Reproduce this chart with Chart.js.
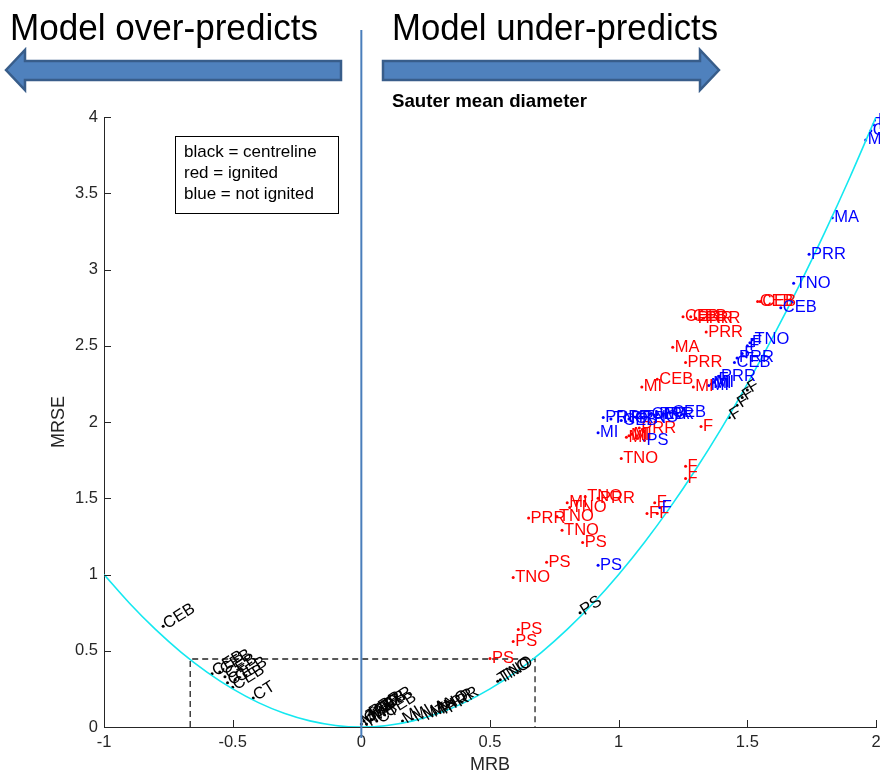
<!DOCTYPE html>
<html>
<head>
<meta charset="utf-8">
<script src="https://cdn.jsdelivr.net/npm/chart.js@4/dist/chart.umd.min.js"></script>
<style>
  html, body { margin: 0; padding: 0; background: #ffffff; }
  #wrap { position: relative; width: 880px; height: 779px; }
  canvas { position: absolute; left: 0; top: 0; }
</style>
</head>
<body>
<div id="wrap"><canvas id="c" width="880" height="779"></canvas></div>
<script>
// ---------------- data ----------------
const xTickValues = [-1, -0.5, 0, 0.5, 1, 1.5, 2];
const xTickLabels = ['-1', '-0.5', '0', '0.5', '1', '1.5', '2'];
const yTickValues = [0, 0.5, 1, 1.5, 2, 2.5, 3, 3.5, 4];
const yTickLabels = ['0', '0.5', '1', '1.5', '2', '2.5', '3', '3.5', '4'];

// cyan reference curve (MRSE vs MRB)
const curveX = [-1, -0.9, -0.8, -0.7, -0.6, -0.5, -0.4, -0.3, -0.2, -0.1, 0, 0.1, 0.2, 0.3, 0.4, 0.5, 0.6, 0.7, 0.8, 0.9, 1, 1.1, 1.2, 1.3, 1.4, 1.5, 1.6, 1.7, 1.8, 1.9, 2];
const curveY = [1, 0.81, 0.64, 0.49, 0.36, 0.25, 0.16, 0.09, 0.04, 0.01, 0, 0.01, 0.04, 0.09, 0.16, 0.25, 0.36, 0.49, 0.64, 0.81, 1, 1.21, 1.44, 1.69, 1.96, 2.25, 2.56, 2.89, 3.24, 3.61, 4];

// dashed guide box
const boxX = [-0.665, -0.665, 0.675, 0.675];
const boxY = [0, 0.446, 0.446, 0];

// black = centreline
const blackX = [-0.77, -0.58, -0.55, -0.53, -0.52, -0.50, -0.49, -0.42, 0.00, 0.01, 0.02, 0.02, 0.03, 0.04, 0.05, 0.06, 0.07, 0.09, 0.16, 0.20, 0.24, 0.27, 0.29, 0.31, 0.33, 0.53, 0.54, 0.85, 1.43, 1.46, 1.48, 1.50];
const blackY = [0.66, 0.35, 0.36, 0.33, 0.29, 0.26, 0.31, 0.19, 0.02, 0.04, 0.06, 0.02, 0.08, 0.05, 0.09, 0.04, 0.11, 0.08, 0.04, 0.05, 0.06, 0.08, 0.09, 0.10, 0.11, 0.30, 0.31, 0.75, 2.03, 2.11, 2.16, 2.21];
const blackLabels = ['CEB', 'CEB', 'CEB', 'CEB', 'CT', 'CEB', 'CEB', 'CT', 'MI', 'CEB', 'TNO', 'F', 'PRR', 'MA', 'CEB', 'CT', 'PRR', 'CEB', 'MI', 'MI', 'MA', 'MA', 'TNO', 'PRR', 'PRR', 'TNO', 'TNO', 'PS', 'F', 'F', 'F', 'F'];

// red = ignited
const redX = [1.54, 1.55, 1.25, 1.28, 1.30, 1.33, 1.34, 1.21, 1.26, 1.15, 1.09, 1.29, 1.32, 1.08, 1.03, 1.04, 1.05, 1.01, 1.26, 1.26, 0.87, 0.92, 0.80, 0.81, 0.65, 0.76, 0.78, 0.86, 0.72, 0.59, 1.14, 1.11, 1.15, 0.61, 0.59, 0.50];
const redY = [2.79, 2.79, 2.69, 2.69, 2.68, 2.68, 2.59, 2.49, 2.39, 2.28, 2.23, 2.23, 1.97, 1.96, 1.90, 1.91, 1.92, 1.76, 1.71, 1.63, 1.51, 1.50, 1.47, 1.44, 1.37, 1.38, 1.29, 1.21, 1.08, 0.98, 1.47, 1.40, 1.40, 0.64, 0.56, 0.45];
const redLabels = ['CEB', 'CEB', 'CEB', 'CEB', 'PRR', 'PRR', 'PRR', 'MA', 'PRR', 'CEB', 'MI', 'MI', 'F', 'PRR', 'MI', 'MI', 'MI', 'TNO', 'F', 'F', 'TNO', 'PRR', 'MI', 'TNO', 'PRR', 'TNO', 'TNO', 'PS', 'PS', 'TNO', 'F', 'F', 'F', 'PS', 'PS', 'PS'];

// blue = not ignited
const blueX = [1.96, 1.98, 1.99, 2.00, 1.83, 1.74, 1.68, 1.63, 1.52, 1.51, 1.50, 1.48, 1.46, 1.45, 1.39, 1.38, 1.36, 1.37, 1.35, 0.94, 0.92, 0.97, 1.01, 1.04, 1.07, 1.09, 1.12, 1.15, 1.17, 1.20, 1.10, 0.92, 1.16];
const blueY = [3.85, 3.91, 3.95, 3.98, 3.34, 3.10, 2.91, 2.75, 2.54, 2.52, 2.50, 2.45, 2.42, 2.39, 2.30, 2.28, 2.25, 2.26, 2.24, 2.03, 1.93, 2.02, 2.01, 2.02, 2.03, 2.03, 2.05, 2.05, 2.05, 2.06, 1.88, 1.06, 1.44];
const blueLabels = ['MI', 'CEB', 'TNO', 'PRR', 'MA', 'PRR', 'TNO', 'CEB', 'TNO', 'F', 'F', 'F', 'PRR', 'CEB', 'PRR', 'F', 'MI', 'MI', 'MI', 'PRR', 'MI', 'TNO', 'CEB', 'PRR', 'F', 'TNO', 'CEB', 'PRR', 'MA', 'CEB', 'PS', 'PS', 'F'];

// ---------------- helpers ----------------
const FONT = "'Liberation Sans', Arial, Helvetica, sans-serif";
const AXIS = '#262626';
const pts = (xs, ys) => xs.map((x, i) => ({ x: x, y: ys[i] }));

// inner tick marks (MATLAB style)
const innerTicks = {
  id: 'innerTicks',
  afterDraw(chart) {
    const { ctx, chartArea: a, scales: { x, y } } = chart;
    ctx.save();
    ctx.strokeStyle = AXIS;
    ctx.lineWidth = 1;
    ctx.beginPath();
    xTickValues.forEach(v => {
      const px = Math.round(x.getPixelForValue(v)) + 0.5;
      ctx.moveTo(px, a.bottom); ctx.lineTo(px, a.bottom - 7);
    });
    yTickValues.forEach(v => {
      const py = Math.round(y.getPixelForValue(v)) + 0.5;
      ctx.moveTo(a.left, py); ctx.lineTo(a.left + 7, py);
    });
    ctx.stroke();
    ctx.restore();
  }
};

// text labels beside each point
const pointLabels = {
  id: 'pointLabels',
  afterDatasetsDraw(chart) {
    const ctx = chart.ctx;
    chart.data.datasets.forEach((ds, di) => {
      if (!ds.pointText) return;
      const meta = chart.getDatasetMeta(di);
      ctx.save();
      ctx.font = '16.5px ' + FONT;
      ctx.fillStyle = ds.textColor;
      ctx.textBaseline = 'middle';
      ctx.textAlign = 'left';
      meta.data.forEach((el, i) => {
        const txt = ds.pointText[i];
        ctx.save();
        ctx.translate(el.x, el.y);
        if (ds.textAngle) ctx.rotate(ds.textAngle * Math.PI / 180);
        ctx.fillText(txt, 2, 0);
        ctx.restore();
      });
      ctx.restore();
    });
  }
};

// slide decorations: headings, arrows, divider, title, note box
const overlay = {
  id: 'overlay',
  afterDraw(chart) {
    const { ctx, scales: { x } } = chart;
    ctx.save();
    // divider at MRB = 0
    const x0 = x.getPixelForValue(0);
    ctx.strokeStyle = '#4a7ebb';
    ctx.lineWidth = 2;
    ctx.beginPath();
    ctx.moveTo(x0, 30); ctx.lineTo(x0, 738);
    ctx.stroke();

    // arrows
    ctx.fillStyle = '#4f81bd';
    ctx.strokeStyle = '#385d8a';
    ctx.lineWidth = 2.5;
    ctx.lineJoin = 'miter';
    ctx.beginPath();
    ctx.moveTo(6, 70); ctx.lineTo(25, 50); ctx.lineTo(25, 61); ctx.lineTo(341, 61);
    ctx.lineTo(341, 80); ctx.lineTo(25, 80); ctx.lineTo(25, 90); ctx.closePath();
    ctx.fill(); ctx.stroke();
    ctx.beginPath();
    ctx.moveTo(719, 70); ctx.lineTo(700, 50); ctx.lineTo(700, 61); ctx.lineTo(383, 61);
    ctx.lineTo(383, 80); ctx.lineTo(700, 80); ctx.lineTo(700, 90); ctx.closePath();
    ctx.fill(); ctx.stroke();

    // headings
    ctx.fillStyle = '#000000';
    ctx.textBaseline = 'alphabetic';
    ctx.textAlign = 'left';
    ctx.font = '36px ' + FONT;
    const fit = (txt, left, right, base) => {
      const w = ctx.measureText(txt).width;
      ctx.save();
      ctx.translate(left, base);
      ctx.scale((right - left) / w, 1);
      ctx.fillText(txt, 0, 0);
      ctx.restore();
    };
    fit('Model over-predicts', 10, 318, 40);
    fit('Model under-predicts', 392, 718, 40);

    // chart title
    ctx.font = 'bold 18.5px ' + FONT;
    fit('Sauter mean diameter', 392, 587, 106.5);

    // note box
    ctx.fillStyle = '#ffffff';
    ctx.fillRect(175.5, 136.5, 163, 77);
    ctx.strokeStyle = '#000000';
    ctx.lineWidth = 1;
    ctx.strokeRect(175.5, 136.5, 163, 77);
    ctx.fillStyle = '#000000';
    ctx.font = '17px ' + FONT;
    ctx.fillText('black = centreline', 184, 157);
    ctx.fillText('red = ignited', 184, 178);
    ctx.fillText('blue = not ignited', 184, 199);
    ctx.restore();
  }
};

// ---------------- chart ----------------
new Chart(document.getElementById('c'), {
  type: 'scatter',
  data: {
    datasets: [
      {
        label: 'curve',
        data: pts(curveX, curveY),
        showLine: true,
        borderColor: '#14e8f0',
        borderWidth: 1.6,
        pointRadius: 0,
        cubicInterpolationMode: 'monotone',
        fill: false
      },
      {
        label: 'box',
        data: pts(boxX, boxY),
        showLine: true,
        borderColor: '#222222',
        borderWidth: 1.3,
        borderDash: [6, 4],
        pointRadius: 0,
        tension: 0,
        fill: false
      },
      {
        label: 'centreline',
        data: pts(blackX, blackY),
        backgroundColor: '#000000',
        borderColor: '#000000',
        pointRadius: 1.5,
        pointBorderWidth: 0,
        pointText: blackLabels,
        textColor: '#000000',
        textAngle: -32
      },
      {
        label: 'ignited',
        data: pts(redX, redY),
        backgroundColor: '#ff0000',
        borderColor: '#ff0000',
        pointRadius: 1.5,
        pointBorderWidth: 0,
        pointText: redLabels,
        textColor: '#ff0000'
      },
      {
        label: 'not ignited',
        data: pts(blueX, blueY),
        backgroundColor: '#0000ff',
        borderColor: '#0000ff',
        pointRadius: 1.5,
        pointBorderWidth: 0,
        pointText: blueLabels,
        textColor: '#0000ff'
      }
    ]
  },
  options: {
    responsive: false,
    animation: false,
    devicePixelRatio: 1,
    layout: { padding: { left: 0, top: 117, right: 4, bottom: 0 } },
    plugins: {
      legend: { display: false },
      tooltip: { enabled: false }
    },
    scales: {
      x: {
        type: 'linear',
        position: 'bottom',
        min: -1,
        max: 2,
        afterBuildTicks: s => { s.ticks = xTickValues.map(v => ({ value: v })); },
        afterFit: s => { s.height = 52; s.paddingLeft = 0; s.paddingRight = 0; },
        grid: { display: true, drawOnChartArea: false, drawTicks: false },
        border: { display: true, color: AXIS, width: 1 },
        ticks: {
          color: AXIS,
          padding: 6,
          maxRotation: 0,
          font: { family: FONT, size: 16.5 },
          callback: (v, i) => xTickLabels[i]
        },
        title: {
          display: true,
          text: 'MRB',
          color: AXIS,
          font: { family: FONT, size: 18 },
          padding: { top: 0, bottom: 3 }
        }
      },
      y: {
        type: 'linear',
        position: 'left',
        min: 0,
        max: 4,
        afterBuildTicks: s => { s.ticks = yTickValues.map(v => ({ value: v })); },
        afterFit: s => { s.width = 104; s.paddingTop = 0; s.paddingBottom = 0; },
        grid: { display: true, drawOnChartArea: false, drawTicks: false },
        border: { display: true, color: AXIS, width: 1 },
        ticks: {
          color: AXIS,
          padding: 6,
          font: { family: FONT, size: 16.5 },
          callback: (v, i) => yTickLabels[i]
        },
        title: {
          display: true,
          text: 'MRSE',
          color: AXIS,
          font: { family: FONT, size: 18 },
          padding: { top: 48, bottom: 0 }
        }
      }
    }
  },
  plugins: [innerTicks, pointLabels, overlay]
});
</script>
</body>
</html>
